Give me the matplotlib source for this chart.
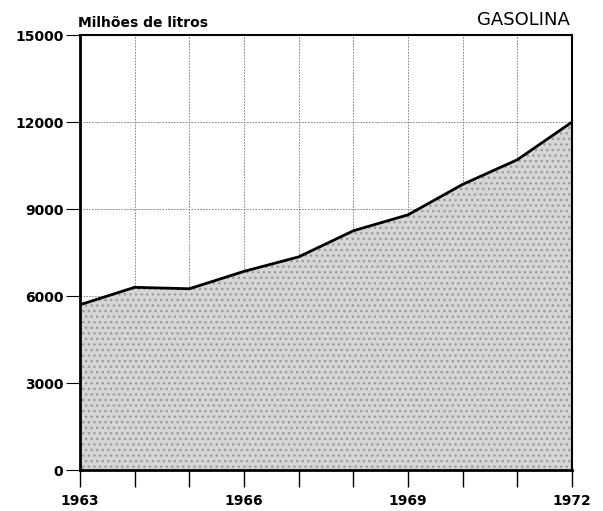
import matplotlib
matplotlib.use("Agg")
import matplotlib.pyplot as plt
import numpy as np

# consumo anual de gasolina, milhoes de litros
anos = [1963, 1964, 1965, 1966, 1967, 1968, 1969, 1970, 1971, 1972]
gasolina = [5700, 6300, 6250, 6850, 7350, 8250, 8800, 9850, 10700, 12000]

y_ticks = [0, 3000, 6000, 9000, 12000, 15000]
y_labels = ["0", "3000", "6000", "9000", "12000", "15000"]
x_labels = ["1963", "", "", "1966", "", "", "1969", "", "", "1972"]

fig = plt.figure(figsize=(6.03, 5.11), dpi=100)
ax = fig.add_axes([0.1327, 0.0802, 0.816, 0.8513])

plt.rcParams["hatch.linewidth"] = 1.0
ax.fill_between(anos, gasolina, 0, facecolor="#d6d6d6", edgecolor="#9a9a9a",
                hatch="...", linewidth=0, zorder=2)
ax.plot(anos, gasolina, color="black", lw=2, zorder=3)

ax.set_xlim(1963, 1972)
ax.set_ylim(0, 15000)
ax.set_xticks(anos)
ax.set_xticklabels(x_labels, fontsize=10, fontweight="bold")
ax.set_yticks(y_ticks)
ax.set_yticklabels(y_labels, fontsize=10, fontweight="bold")
ax.tick_params(axis="x", direction="out", length=12, width=1, pad=5)
ax.tick_params(axis="y", direction="out", length=10, width=0.8, pad=2)

ax.grid(True, color="#777777", lw=0.6, ls=(0, (2, 1.5)), zorder=1)
ax.set_axisbelow(True)

for s in ["left", "bottom"]:
    ax.spines[s].set_linewidth(2)
for s in ["top", "right"]:
    ax.spines[s].set_linewidth(1.5)

fig.text(0.129, 0.948, "Milhões de litros", fontsize=10, fontweight="bold")
fig.text(0.945, 0.952, "GASOLINA", fontsize=13, ha="right")

fig.savefig("out.png", dpi=100)
